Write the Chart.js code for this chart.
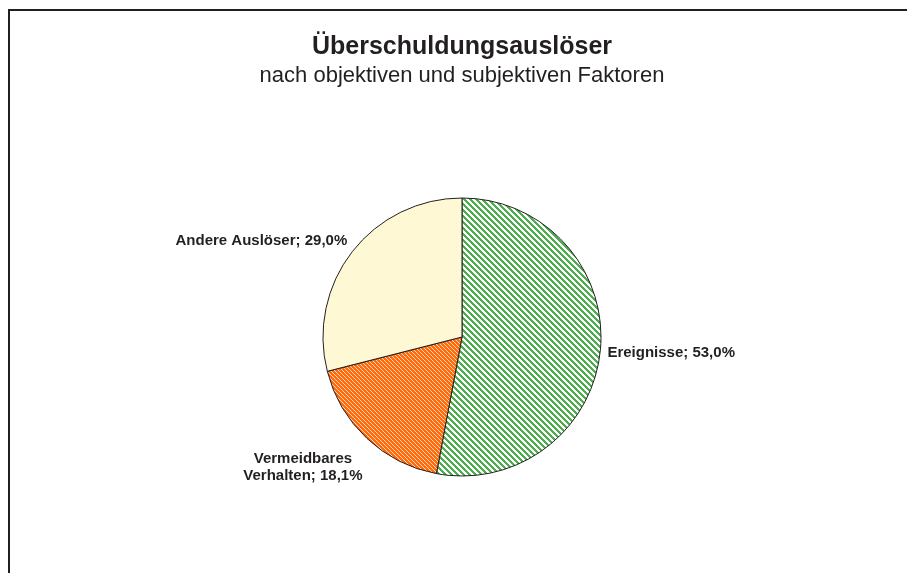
<!DOCTYPE html>
<html>
<head>
<meta charset="utf-8">
<script src="https://cdn.jsdelivr.net/npm/chart.js@4"></script>
<style>
    html, body { margin: 0; padding: 0; background: #fff; }
    #wrap { position: relative; width: 907px; height: 573px; overflow: hidden; }
    #frame {
        position: absolute; left: 8px; top: 9px; width: 905px; height: 570px;
        border-left: 2px solid #231f20; border-top: 2px solid #231f20;
    }
    canvas { position: absolute; left: 0; top: 0; }
</style>
</head>
<body>
<div id="wrap">
    <div id="frame"></div>
    <canvas id="pie" width="907" height="573"></canvas>
</div>
<script>
// Überschuldungsauslöser - data
const categories = ['Ereignisse', 'Vermeidbares Verhalten', 'Andere Auslöser'];
const labelLines = [['Ereignisse'], ['Vermeidbares', 'Verhalten'], ['Andere Auslöser']];
const shares = [53.0, 18.1, 29.0];

const textColor = '#231f20';
const font = "'Liberation Sans', Arial, sans-serif";

// label placement relative to the slice's outer mid point
const labelPlacement = [
    { dx: 7, dy: 3, align: 'left' },
    { dx: -64, dy: 20, align: 'center' },
    { dx: -5, dy: -11, align: 'right' }
];

// hatch pattern: diagonal "\" stripes
function makeHatch(bg, fg, period, width) {
    const c = document.createElement('canvas');
    c.width = period;
    c.height = period;
    const g = c.getContext('2d');
    g.fillStyle = bg;
    g.fillRect(0, 0, period, period);
    g.fillStyle = fg;
    for (let y = 0; y < period; y++) {
        for (let x = 0; x < period; x++) {
            if (((x - y) % period + period) % period < width) {
                g.fillRect(x, y, 1, 1);
            }
        }
    }
    return c;
}

const ctx = document.getElementById('pie');
const ctx2d = ctx.getContext('2d');
const greenHatch = ctx2d.createPattern(makeHatch('#ffffff', '#4dae4d', 6, 3), 'repeat');
const orangeHatch = ctx2d.createPattern(makeHatch('#ff6a0a', '#ffd6b8', 4, 1), 'repeat');

const fmt = v => v.toFixed(1).replace('.', ',') + '%';

const sliceLabels = {
    id: 'sliceLabels',
    afterDatasetsDraw(chart) {
        const g = chart.ctx;
        const arcs = chart.getDatasetMeta(0).data;
        g.save();
        g.font = 'bold 15px ' + font;
        g.fillStyle = textColor;
        g.textBaseline = 'middle';
        arcs.forEach((arc, i) => {
            const p = arc.getProps(['x', 'y', 'startAngle', 'endAngle', 'outerRadius'], true);
            const mid = (p.startAngle + p.endAngle) / 2;
            const ax = p.x + Math.cos(mid) * p.outerRadius;
            const ay = p.y + Math.sin(mid) * p.outerRadius;
            const pl = labelPlacement[i];
            const lines = labelLines[i].slice();
            lines[lines.length - 1] += '; ' + fmt(shares[i]);
            g.textAlign = pl.align;
            lines.forEach((t, k) => {
                g.fillText(t, ax + pl.dx, ay + pl.dy + k * 17);
            });
        });
        g.restore();
    }
};

new Chart(ctx, {
    type: 'pie',
    data: {
        labels: categories,
        datasets: [{
            data: shares,
            backgroundColor: [greenHatch, orangeHatch, '#fff8d5'],
            borderColor: '#231f20',
            borderWidth: 1,
            radius: 139
        }]
    },
    options: {
        responsive: false,
        animation: false,
        layout: {
            padding: { left: 17, right: 0, top: 0, bottom: 97 }
        },
        plugins: {
            legend: { display: false },
            tooltip: { enabled: false },
            title: {
                display: true,
                text: 'Überschuldungsauslöser',
                color: textColor,
                font: { family: font, size: 25, weight: 'bold', lineHeight: 1.2 },
                padding: { top: 32, bottom: 0 }
            },
            subtitle: {
                display: true,
                text: 'nach objektiven und subjektiven Faktoren',
                color: textColor,
                font: { family: font, size: 22, weight: 'normal', lineHeight: 1.2 },
                padding: { top: 1, bottom: 108.6 }
            }
        }
    },
    plugins: [sliceLabels]
});
</script>
</body>
</html>
